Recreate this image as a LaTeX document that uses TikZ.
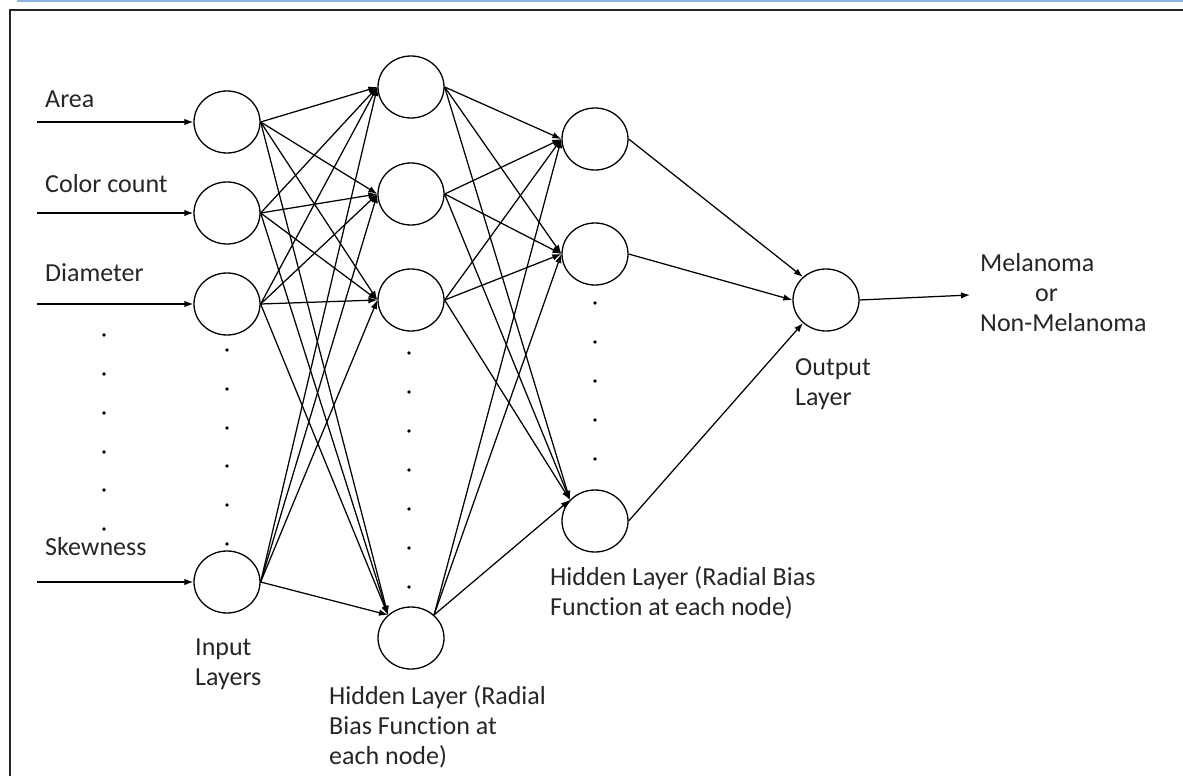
\documentclass[tikz,border=0pt]{standalone}
\usepackage{fontspec}
\setmainfont{Carlito}[Ligatures=NoCommon]
\usetikzlibrary{shapes.geometric,arrows.meta}
\definecolor{topblue}{HTML}{8DB3E2}
\begin{document}
\begin{tikzpicture}[x=1pt,y=-1pt,
  neuron/.style={draw,ellipse,minimum width=66pt,minimum height=62pt,line width=1.3pt,inner sep=0pt},
  conn/.style={line width=1.25pt,-{Latex[length=9pt,width=6.5pt]}},
  lbl/.style={font=\fontsize{26}{30}\selectfont,inner sep=0pt,align=left,text=black!85},
  dotmark/.style={circle,fill,inner sep=0pt,minimum size=3.8pt}]
\useasboundingbox (0,0) rectangle (1183,776);
% frame
\fill[topblue] (17,0) rectangle (1183,2.5);
\draw[line width=1.6pt,black!85] (10,776) -- (10,10) -- (1183,10);
% neurons
\node[neuron] (i1) at (227,122) {};
\node[neuron] (i2) at (227,213) {};
\node[neuron] (i3) at (227,304) {};
\node[neuron] (i4) at (227,582) {};
\node[neuron] (h1) at (411,87) {};
\node[neuron] (h2) at (411,194) {};
\node[neuron] (h3) at (411,300) {};
\node[neuron] (h4) at (411,638) {};
\node[neuron] (g1) at (595,139) {};
\node[neuron] (g2) at (595,254) {};
\node[neuron] (g3) at (595,521) {};
\node[neuron] (o) at (826,300) {};
% input arrows
\coordinate (s1) at (37,122);
\coordinate (s2) at (37,213);
\coordinate (s3) at (37,304);
\coordinate (s4) at (37,582);
\draw[conn] (s1) -- (i1.west);
\draw[conn] (s2) -- (i2.west);
\draw[conn] (s3) -- (i3.west);
\draw[conn] (s4) -- (i4.west);
% input labels
\node[lbl,anchor=west] (la) at (45,99) {Area};
\node[lbl,anchor=west] (lc) at (45,184) {Color count};
\node[lbl,anchor=west] (ld) at (45,273) {Diameter};
\node[lbl,anchor=west] (ls) at (45,547) {Skewness};
% input -> hidden 1
\foreach \s in {i1,i2,i3,i4} {
  \draw[conn] (\s.east) -- (h1.west);
  \draw[conn] (\s.east) -- (h2.west);
  \draw[conn] (\s.east) -- (h3.west);
  \draw[conn] (\s.east) -- (h4.135);
}
% hidden 1 -> hidden 2
\foreach \s/\a in {h1/east,h2/east,h3/east,h4/45} {
  \draw[conn] (\s.\a) -- (g1.west);
  \draw[conn] (\s.\a) -- (g2.west);
  \draw[conn] (\s.\a) -- (g3.140);
}
% hidden 2 -> output
\draw[conn] (g1.east) -- (o.135);
\draw[conn] (g2.east) -- (o.west);
\draw[conn] (g3.east) -- (o.225);
\coordinate (res) at (970,295);
\draw[conn] (o.east) -- (res);
% dots
\foreach \y in {335,374,413,452,490,529} \node[dotmark] at (104,\y) {};
\foreach \y in {350,389,428,466,505,544} \node[dotmark] at (227,\y) {};
\foreach \y in {353,392,431,470,509,548,587} \node[dotmark] at (409,\y) {};
\foreach \y in {303,342,381,420,459} \node[dotmark] at (595,\y) {};
% layer labels
\node[lbl,anchor=west] (lin) at (195,664) {Input\\Layers};
\node[lbl,anchor=west] (lh1) at (329,727) {Hidden Layer (Radial\\Bias Function at\\each node)};
\node[lbl,anchor=west] (lh2) at (550,593) {Hidden Layer (Radial Bias\\Function at each node)};
\node[lbl,anchor=west] (lo) at (795,384) {Output\\Layer};
\node[lbl,anchor=west] (lr) at (980,293) {Melanoma\\\hspace*{55pt}or\\Non-Melanoma};
\end{tikzpicture}
\end{document}
